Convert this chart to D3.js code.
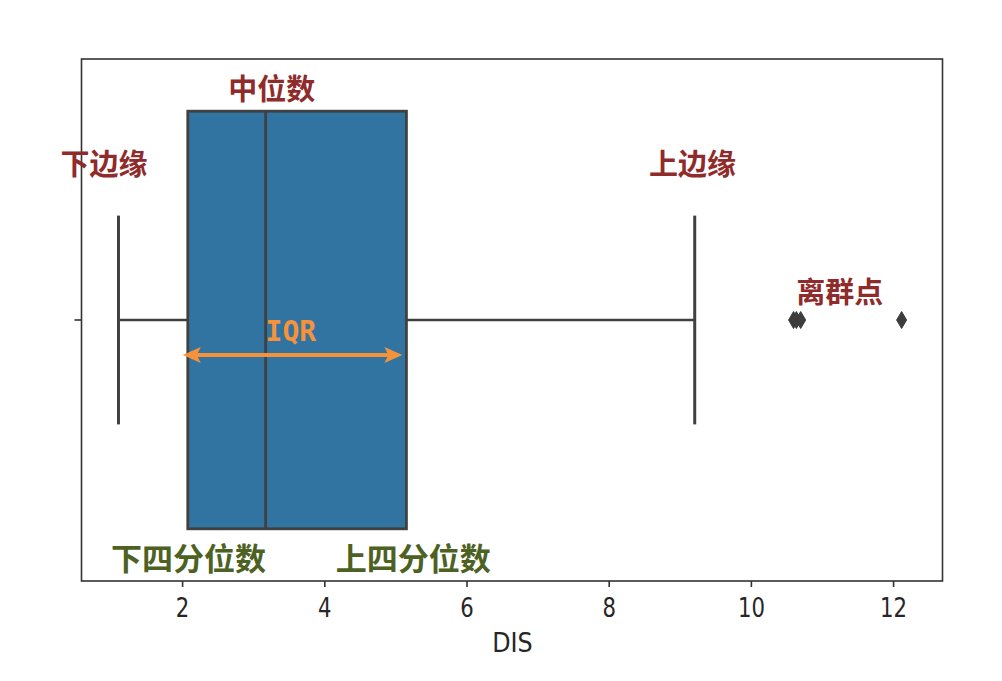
<!DOCTYPE html>
<html><head><meta charset="utf-8">
<script src="https://cdn.jsdelivr.net/npm/d3@7"></script>
<style>body{margin:0;background:#fff;} svg{display:block;}</style>
</head><body>
<svg id="c" width="1002" height="681"></svg>
<script>
// ---- data ----
const categories = [""];
const lowerWhisker = [1.105];
const q1 = [2.08];
const median = [3.175];
const q3 = [5.155];
const upperWhisker = [9.21];
const outliers = [10.6, 10.64, 10.7, 12.12];
const xTicks = [2, 4, 6, 8, 10, 12];
const xDomain = [0.585, 12.695];
const xLabel = "DIS";
const redNotes = [
  {text: "中位数", v: 3.26, row: "top"},
  {text: "下边缘", v: 0.9, row: "mid"},
  {text: "上边缘", v: 9.18, row: "mid"},
  {text: "离群点", v: 11.25, row: "out"}
];
const greenNotes = [
  {text: "下四分位数", v: 2.09},
  {text: "上四分位数", v: 5.25}
];
const iqrLabel = "IQR";

// ---- layout ----
const svg = d3.select("#c");
const L = 81.5, R = 942.5, T = 59, B = 581;
const x = d3.scaleLinear().domain(xDomain).range([L, R]);
const y = d3.scaleBand().domain(categories).range([T, B]);
const lineCol = "#404040", boxCol = "#3274a1";
const red = "#902b2b", green = "#4d6123", orange = "#f6923a";
const bw = y.bandwidth() * 0.8;
const cy = y(categories[0]) + y.bandwidth() / 2;
const cjk = "'Noto Sans CJK SC', 'Noto Sans CJK JP', sans-serif";
const latin = "'DejaVu Sans', sans-serif";
const halfW = 13.5; // half-width glyph advance of the label font

const g = svg.append("g");
const i = 0;
// whisker lines
g.append("line").attr("x1", x(lowerWhisker[i])).attr("x2", x(q1[i])).attr("y1", cy).attr("y2", cy)
  .attr("stroke", lineCol).attr("stroke-width", 2.6);
g.append("line").attr("x1", x(q3[i])).attr("x2", x(upperWhisker[i])).attr("y1", cy).attr("y2", cy)
  .attr("stroke", lineCol).attr("stroke-width", 2.6);
// caps
[lowerWhisker[i], upperWhisker[i]].forEach(v => {
  g.append("line").attr("x1", x(v)).attr("x2", x(v)).attr("y1", cy - bw / 4).attr("y2", cy + bw / 4)
    .attr("stroke", lineCol).attr("stroke-width", 3);
});
// box
g.append("rect").attr("x", x(q1[i])).attr("width", x(q3[i]) - x(q1[i]))
  .attr("y", cy - bw / 2).attr("height", bw)
  .attr("fill", boxCol).attr("stroke", lineCol).attr("stroke-width", 2.8);
// median
g.append("line").attr("x1", x(median[i])).attr("x2", x(median[i])).attr("y1", cy - bw / 2).attr("y2", cy + bw / 2)
  .attr("stroke", lineCol).attr("stroke-width", 2.8);
// outliers (thin diamonds)
g.selectAll("path.out").data(outliers).enter().append("path").attr("class", "out")
  .attr("d", d => `M${x(d)},${cy - 8.5}L${x(d) + 5},${cy}L${x(d)},${cy + 8.5}L${x(d) - 5},${cy}Z`)
  .attr("fill", "#3d3d3d").attr("stroke", "#3d3d3d").attr("stroke-width", 1);

// frame
svg.append("rect").attr("x", L).attr("y", T).attr("width", R - L).attr("height", B - T)
  .attr("fill", "none").attr("stroke", "#333").attr("stroke-width", 1.6);

// x axis
const xAxis = d3.axisBottom(x).tickValues(xTicks).tickSize(6).tickFormat(d3.format("d"));
const ax = svg.append("g").attr("transform", `translate(0,${B})`).call(xAxis);
ax.attr("font-size", null).attr("font-family", null);
ax.select(".domain").remove();
ax.selectAll(".tick line").attr("stroke", "#333").attr("stroke-width", 1.6);
ax.selectAll(".tick text").attr("y", 26).attr("dy", null).attr("dominant-baseline", "central")
  .attr("textLength", d => String(d).length * halfW).attr("lengthAdjust", "spacingAndGlyphs")
  .style("font-family", latin).style("font-size", "27px").attr("fill", "#262626");
// y axis tick
const yAxis = d3.axisLeft(y).tickSize(7).tickFormat(() => "");
const ay = svg.append("g").attr("transform", `translate(${L},0)`).call(yAxis);
ay.select(".domain").remove();
ay.selectAll(".tick line").attr("stroke", "#333").attr("stroke-width", 1.6);

svg.append("text").attr("x", (L + R) / 2 + 0.5).attr("y", 642).attr("text-anchor", "middle").attr("dominant-baseline", "central")
  .attr("textLength", xLabel.length * halfW).attr("lengthAdjust", "spacingAndGlyphs")
  .style("font-family", latin).style("font-size", "27px").attr("fill", "#262626").text(xLabel);

// annotations
const rowY = {top: 87, mid: 162, out: 290};
svg.selectAll("text.red").data(redNotes).enter().append("text").attr("class", "red")
  .attr("x", d => x(d.v)).attr("y", d => rowY[d.row]).attr("dominant-baseline", "central")
  .attr("text-anchor", "middle").style("font-family", cjk).attr("font-weight", "bold")
  .style("font-size", "29px").attr("fill", red).text(d => d.text);
svg.selectAll("text.green").data(greenNotes).enter().append("text").attr("class", "green")
  .attr("x", d => x(d.v)).attr("y", 556).attr("dominant-baseline", "central")
  .attr("text-anchor", "middle").style("font-family", cjk).attr("font-weight", "bold")
  .style("font-size", "31px").attr("fill", green).text(d => d.text);

// IQR arrow
const ay0 = 355;
const ax0 = x(q1[i]) - 5, ax1 = x(q3[i]) - 4;
svg.append("line").attr("x1", ax0 + 10).attr("x2", ax1 - 10).attr("y1", ay0).attr("y2", ay0)
  .attr("stroke", orange).attr("stroke-width", 4);
svg.append("path").attr("d", `M${ax0},${ay0}L${ax0 + 18},${ay0 - 8}L${ax0 + 14},${ay0}L${ax0 + 18},${ay0 + 8}Z`).attr("fill", orange);
svg.append("path").attr("d", `M${ax1},${ay0}L${ax1 - 18},${ay0 - 8}L${ax1 - 14},${ay0}L${ax1 - 18},${ay0 + 8}Z`).attr("fill", orange);
svg.append("text").attr("x", x(3.53)).attr("y", 331).attr("dominant-baseline", "central")
  .attr("text-anchor", "middle").style("font-family", "'DejaVu Sans Mono', monospace").attr("font-weight", "bold")
  .style("font-size", "28px").attr("fill", orange).text(iqrLabel);
</script>
</body></html>
